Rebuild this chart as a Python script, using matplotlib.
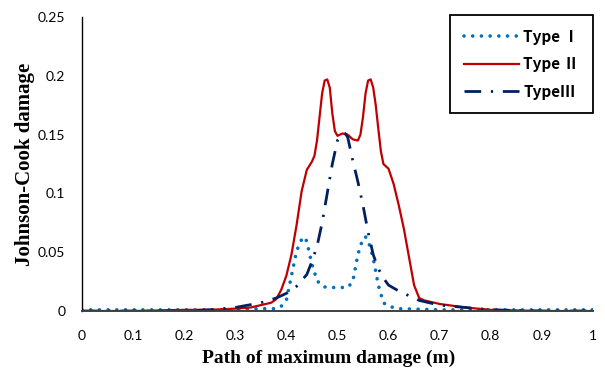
import matplotlib
matplotlib.use("Agg")
import matplotlib.pyplot as plt

# Type I (blue dotted)
x_type1 = [0, 0.1, 0.2, 0.3, 0.35, 0.38, 0.39, 0.40, 0.41, 0.42, 0.43, 0.436, 0.44, 0.45,
           0.46, 0.47, 0.48, 0.50, 0.52, 0.53, 0.54, 0.55, 0.555, 0.56, 0.57, 0.58, 0.59,
           0.60, 0.62, 0.7, 0.8, 0.9, 1.0]
y_type1 = [0.001, 0.001, 0.001, 0.001, 0.002, 0.002, 0.004, 0.009, 0.03, 0.051, 0.061, 0.063,
           0.059, 0.04, 0.026, 0.021, 0.02, 0.02, 0.02, 0.025, 0.048, 0.062, 0.063, 0.06,
           0.045, 0.022, 0.007, 0.004, 0.002, 0.001, 0.001, 0.001, 0.001]

# Type II (red solid)
x_type2 = [0, 0.1, 0.2, 0.25, 0.3, 0.33, 0.35, 0.37, 0.38, 0.39, 0.40, 0.41, 0.42, 0.43,
           0.44, 0.45, 0.455, 0.46, 0.465, 0.47, 0.475, 0.48, 0.485, 0.49, 0.495, 0.50,
           0.51, 0.52, 0.53, 0.54, 0.545, 0.55, 0.555, 0.56, 0.565, 0.57, 0.575, 0.58,
           0.585, 0.59, 0.60, 0.61, 0.62, 0.63, 0.64, 0.65, 0.66, 0.67, 0.70, 0.75, 0.8,
           0.9, 1.0]
y_type2 = [0, 0, 0.001, 0.001, 0.002, 0.003, 0.005, 0.007, 0.01, 0.018, 0.03, 0.048, 0.073,
           0.102, 0.12, 0.127, 0.132, 0.145, 0.165, 0.185, 0.196, 0.197, 0.19, 0.168, 0.153,
           0.149, 0.151, 0.150, 0.146, 0.145, 0.150, 0.165, 0.185, 0.196, 0.197, 0.19,
           0.175, 0.155, 0.136, 0.125, 0.121, 0.108, 0.09, 0.07, 0.046, 0.022, 0.011,
           0.009, 0.006, 0.003, 0.001, 0, 0]

# Type III (navy dash-dot)
x_type3 = [0, 0.1, 0.2, 0.25, 0.3, 0.35, 0.38, 0.40, 0.42, 0.43, 0.44, 0.45, 0.46, 0.47,
           0.48, 0.49, 0.50, 0.51, 0.515, 0.52, 0.53, 0.54, 0.55, 0.56, 0.57, 0.58, 0.59,
           0.60, 0.62, 0.64, 0.66, 0.70, 0.75, 0.8, 0.9, 1.0]
y_type3 = [0, 0, 0, 0.001, 0.003, 0.007, 0.011, 0.015, 0.021, 0.026, 0.031, 0.042, 0.055,
           0.075, 0.1, 0.125, 0.145, 0.151, 0.151, 0.148, 0.128, 0.11, 0.09, 0.067, 0.048,
           0.036, 0.028, 0.022, 0.017, 0.013, 0.009, 0.005, 0.003, 0.001, 0, 0]

x_ticks = [0, 0.1, 0.2, 0.3, 0.4, 0.5, 0.6, 0.7, 0.8, 0.9, 1]
x_tick_labels = ["0", "0.1", "0.2", "0.3", "0.4", "0.5", "0.6", "0.7", "0.8", "0.9", "1"]
y_ticks = [0, 0.05, 0.1, 0.15, 0.2, 0.25]
y_tick_labels = ["0", "0.05", "0.1", "0.15", "0.2", "0.25"]
labels = ["Type Ⅰ", "Type Ⅱ", "TypeⅢ"]

fig = plt.figure(figsize=(6.05, 3.71), dpi=100)
ax = fig.add_axes([0.1355, 0.1617, 0.8445, 0.7923])

ax.plot(x_type1, y_type1, color="#0070C0", lw=2.6,
        linestyle=(0, (0.01, 2.4)), dash_capstyle="round", label=labels[0])
ax.plot(x_type2, y_type2, color="#C00000", lw=1.6, label=labels[1])
ax.plot(x_type3, y_type3, color="#002060", lw=2.0,
        linestyle=(0, (6, 3.5, 0.8, 3.5)), label=labels[2])

ax.set_xlim(0, 1)
ax.set_ylim(0, 0.25)
ax.set_xticks(x_ticks)
ax.set_xticklabels(x_tick_labels)
ax.set_yticks(y_ticks)
ax.set_yticklabels(y_tick_labels)
ax.tick_params(length=0, labelsize=10, colors="#000000")
ax.tick_params(axis="x", pad=14)
ax.tick_params(axis="y", pad=12)
for t in ax.get_xticklabels() + ax.get_yticklabels():
    t.set_fontfamily("Lato")

for s in ["top", "right"]:
    ax.spines[s].set_visible(False)
ax.spines["left"].set_color("black")
ax.spines["left"].set_linewidth(1.0)
ax.spines["bottom"].set_color("#404040")
ax.spines["bottom"].set_linewidth(1.4)

ax.set_xlabel("Path of maximum damage (m)", fontfamily="Liberation Serif",
              fontweight="bold", fontsize=14)
ax.xaxis.set_label_coords(0.483, -0.133)
ax.set_ylabel("Johnson-Cook damage", fontfamily="Liberation Serif",
              fontweight="bold", fontsize=15)
ax.yaxis.set_label_coords(-0.092, 0.5)

leg = ax.legend(loc="upper right", bbox_to_anchor=(1.0, 1.007), borderaxespad=0,
                fancybox=False, edgecolor="black", framealpha=1, handlelength=3.6,
                handletextpad=0.3, labelspacing=0.75, borderpad=0.9,
                prop={"family": ["Noto Sans CJK SC", "DejaVu Sans"], "weight": "bold",
                      "size": 11})
leg.get_frame().set_linewidth(1.3)

fig.savefig("out.png", dpi=100)
